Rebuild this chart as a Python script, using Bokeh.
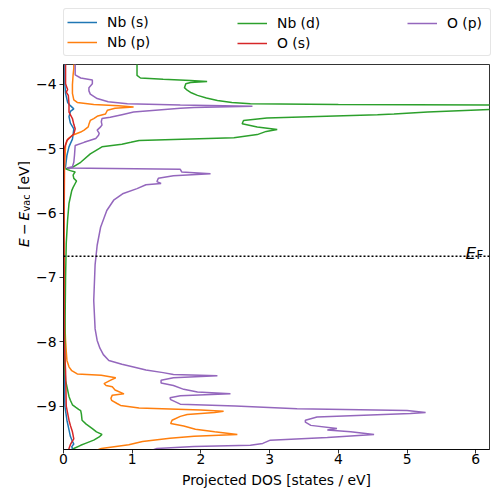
import math
from bokeh.plotting import figure
from bokeh.layouts import column, row
from bokeh.models import (Range1d, Legend, LegendItem, Label, Span, FixedTicker,
                          CustomJSTickFormatter)
from bokeh.embed import file_html
from bokeh.resources import INLINE

FONT = "DejaVu Sans"
FS = "13.9px"

# ---------------- data (energy in eV vs vacuum, PDOS in states/eV) ----------------
E_FERMI = -6.67
X_LIM = (0.0, 6.2)
Y_LIM = (-9.675, -3.69)
X_TICKS = [0, 1, 2, 3, 4, 5, 6]
Y_TICKS = [-9, -8, -7, -6, -5, -4]

nb_s_E = [-3.65, -4.00, -4.14, -4.28, -4.33, -4.38, -4.42, -4.50, -4.60, -4.69, -4.78, -4.85, -4.92, -4.97,
          -5.10, -5.28, -5.31, -6.00, -8.50, -9.00, -9.22, -9.37, -9.47, -9.55, -9.59, -9.63, -9.66, -9.72]
nb_s_dos = [0.02, 0.02, 0.03, 0.06, 0.10, 0.15, 0.10, 0.08, 0.10, 0.15, 0.14, 0.13, 0.10, 0.08,
            0.05, 0.03, 0.01, 0.005, 0.01, 0.02, 0.05, 0.08, 0.10, 0.13, 0.15, 0.12, 0.13, 0.10]

nb_p_E = [-3.65, -3.75, -3.85, -4.00, -4.14, -4.24, -4.28, -4.31, -4.33, -4.35, -4.37, -4.40, -4.44, -4.46,
          -4.49, -4.53, -4.56, -4.62, -4.66, -4.71, -4.74, -4.79, -4.84, -4.88, -4.95, -5.30, -6.00, -7.00,
          -7.60, -7.98, -8.15, -8.29, -8.39, -8.45, -8.50, -8.52, -8.56, -8.60, -8.65, -8.68, -8.70, -8.75,
          -8.81, -8.83, -8.88, -8.91, -8.96, -8.99, -9.03, -9.06, -9.08, -9.10, -9.13, -9.16, -9.22, -9.27,
          -9.31, -9.36, -9.40, -9.44, -9.47, -9.50, -9.55, -9.60, -9.66, -9.72]
nb_p_dos = [0.15, 0.15, 0.14, 0.13, 0.13, 0.15, 0.20, 0.44, 0.80, 1.02, 0.75, 0.64, 0.62, 0.61,
            0.50, 0.44, 0.39, 0.37, 0.36, 0.30, 0.25, 0.13, 0.07, 0.05, 0.03, 0.015, 0.01, 0.01,
            0.015, 0.03, 0.04, 0.05, 0.08, 0.12, 0.20, 0.55, 0.76, 0.68, 0.59, 0.62, 0.71, 0.75,
            0.88, 0.71, 0.69, 0.70, 0.78, 0.83, 1.10, 2.00, 2.33, 2.20, 1.80, 1.70, 1.58, 1.56,
            1.75, 1.92, 2.20, 2.53, 1.90, 1.55, 1.15, 0.95, 0.55, 0.40]

nb_d_E = [-3.65, -3.86, -3.90, -3.92, -3.94, -3.955, -3.97, -3.99, -4.05, -4.09, -4.13, -4.17, -4.21, -4.25,
          -4.28, -4.30, -4.31, -4.325, -4.36, -4.39, -4.43, -4.46, -4.47, -4.52, -4.56, -4.61, -4.66, -4.70,
          -4.73, -4.78, -4.83, -4.87, -4.90, -4.93, -4.97, -5.08, -5.21, -5.29, -5.31, -5.34, -5.36, -5.39,
          -5.41, -5.46, -5.50, -5.54, -5.60, -5.65, -5.75, -5.85, -6.10, -6.47, -7.00, -8.00, -8.40, -8.60,
          -8.75, -8.85, -8.91, -8.98, -9.02, -9.05, -9.07, -9.12, -9.22, -9.28, -9.35, -9.40, -9.44, -9.48,
          -9.53, -9.58, -9.61, -9.66, -9.72]
nb_d_dos = [1.07, 1.07, 1.12, 1.45, 1.85, 2.09, 1.85, 1.78, 1.76, 1.80, 1.86, 1.95, 2.08, 2.24,
            2.45, 2.72, 4.00, 7.50, 8.50, 6.20, 5.30, 4.81, 4.57, 2.96, 2.62, 2.60, 2.82, 3.11,
            2.95, 2.82, 2.48, 1.10, 0.98, 0.85, 0.56, 0.39, 0.25, 0.13, 0.03, 0.10, 0.17, 0.15,
            0.14, 0.15, 0.19, 0.17, 0.14, 0.12, 0.10, 0.08, 0.06, 0.04, 0.03, 0.02, 0.02, 0.03,
            0.06, 0.08, 0.10, 0.13, 0.18, 0.22, 0.25, 0.26, 0.27, 0.33, 0.42, 0.48, 0.56, 0.52,
            0.44, 0.32, 0.25, 0.15, 0.10]

o_s_E = [-3.65, -3.99, -4.05, -4.08, -4.12, -4.17, -4.30, -4.43, -4.53, -4.62, -4.69, -4.77, -4.82, -4.87,
         -5.00, -5.30, -8.00, -8.45, -9.00, -9.22, -9.30, -9.40, -9.51, -9.56, -9.60, -9.66, -9.72]
o_s_dos = [0.03, 0.03, 0.05, 0.06, 0.04, 0.07, 0.08, 0.08, 0.13, 0.15, 0.17, 0.15, 0.10, 0.05,
           0.01, 0.005, 0.01, 0.03, 0.04, 0.08, 0.10, 0.13, 0.15, 0.12, 0.10, 0.08, 0.07]

o_p_E = [-3.65, -3.85, -3.90, -3.93, -3.99, -4.05, -4.10, -4.15, -4.22, -4.27, -4.30, -4.32, -4.34, -4.36,
         -4.37, -4.43, -4.47, -4.51, -4.53, -4.58, -4.63, -4.66, -4.71, -4.76, -4.79, -4.84, -4.90, -4.95,
         -5.10, -5.21, -5.28, -5.30, -5.32, -5.36, -5.39, -5.42, -5.46, -5.51, -5.54, -5.56, -5.62, -5.70,
         -5.80, -5.96, -6.22, -6.50, -6.80, -7.36, -7.80, -7.98, -8.10, -8.20, -8.29, -8.35, -8.40, -8.44,
         -8.48, -8.51, -8.53, -8.56, -8.60, -8.64, -8.68, -8.74, -8.78, -8.81, -8.84, -8.87, -8.90, -8.97,
         -9.00, -9.04, -9.07, -9.10, -9.115, -9.17, -9.22, -9.25, -9.30, -9.35, -9.37, -9.40, -9.44, -9.49,
         -9.53, -9.58, -9.61, -9.63, -9.66, -9.72]
o_p_dos = [0.17, 0.17, 0.25, 0.42, 0.42, 0.37, 0.37, 0.39, 0.49, 0.65, 0.93, 1.70, 2.75, 1.90,
           1.70, 1.02, 0.85, 0.68, 0.56, 0.55, 0.56, 0.54, 0.49, 0.52, 0.51, 0.47, 0.30, 0.17,
           0.16, 0.15, 0.13, 0.05, 1.70, 1.72, 2.14, 1.60, 1.38, 1.36, 1.42, 1.20, 1.07, 0.86,
           0.73, 0.63, 0.54, 0.49, 0.46, 0.44, 0.46, 0.49, 0.53, 0.58, 0.66, 0.85, 1.05, 1.20,
           1.45, 1.60, 2.24, 1.60, 1.42, 1.42, 1.60, 1.75, 1.95, 2.43, 1.70, 1.55, 1.56, 1.70,
           2.50, 3.40, 5.00, 5.27, 5.05, 3.69, 3.52, 3.52, 3.60, 3.98, 3.84, 4.18, 4.52, 3.84,
           3.01, 2.90, 2.72, 1.90, 1.36, 1.20]

series = [
    ("Nb (s)", nb_s_E, nb_s_dos, "#1f77b4"),
    ("Nb (p)", nb_p_E, nb_p_dos, "#ff7f0e"),
    ("Nb (d)", nb_d_E, nb_d_dos, "#2ca02c"),
    ("O (s)", o_s_E, o_s_dos, "#d62728"),
    ("O (p)", o_p_E, o_p_dos, "#9467bd"),
]


def blank_fig(w, h):
    f = figure(width=w, height=h, x_range=Range1d(0, 1), y_range=Range1d(0, 1),
               x_axis_location=None, y_axis_location=None, output_backend="svg",
               toolbar_location=None, min_border=0, outline_line_color=None,
               background_fill_color="white", border_fill_color="white")
    f.grid.visible = False
    return f


def add_text(fig, text, x, y, size=FS, style="normal", angle=0.0, units="screen", yo=0):
    fig.add_layout(Label(x=x, y=y, x_units=units, y_units=units, text=text,
                         text_font=FONT, text_font_size=size, text_font_style=style,
                         text_color="black", angle=angle, text_align="left",
                         text_baseline="alphabetic", y_offset=yo))


# ---------------- main axes ----------------
p = figure(frame_width=426, frame_height=385,
           x_range=Range1d(*X_LIM), y_range=Range1d(*Y_LIM),
           output_backend="svg", toolbar_location=None,
           min_border_left=33, min_border_right=9, min_border_top=4, min_border_bottom=53,
           background_fill_color="white", border_fill_color="white")
p.grid.visible = False
p.outline_line_color = "black"
p.outline_line_width = 0.8

for name, E, dos, col in series:
    p.line(dos, E, line_color=col, line_width=1.5)

p.add_layout(Span(location=E_FERMI, dimension="width", line_color="black",
                  line_width=1.5, line_dash="2 2"))

fmt = CustomJSTickFormatter(code="return (tick < 0 ? '\\u2212' : '') + Math.abs(tick);")
for ax, ticks in ((p.xaxis[0], X_TICKS), (p.yaxis[0], Y_TICKS)):
    ax.ticker = FixedTicker(ticks=ticks)
    ax.formatter = fmt
    ax.minor_tick_line_color = None
    ax.major_tick_in = 0
    ax.major_tick_out = 4
    ax.major_tick_line_width = 0.8
    ax.major_tick_line_color = "black"
    ax.axis_line_color = "black"
    ax.axis_line_width = 0.8
    ax.major_label_text_font = FONT
    ax.major_label_text_font_size = FS
    ax.major_label_text_color = "black"
    ax.axis_label_text_font = FONT
    ax.axis_label_text_font_size = FS
    ax.axis_label_text_font_style = "normal"
    ax.axis_label_text_color = "black"
p.xaxis[0].major_label_standoff = 0
p.yaxis[0].major_label_standoff = 3
p.xaxis[0].axis_label = "Projected DOS [states / eV]"
p.xaxis[0].axis_label_standoff = 5

# E_F label above the dotted line
add_text(p, "E", 5.851, E_FERMI, size="16.7px", style="italic", units="data", yo=3.5)
add_text(p, "F", 6.011, E_FERMI, size="11.7px", units="data", yo=1.0)

# ---------------- y-axis label strip: E - E_vac [eV] ----------------
ylab = blank_fig(30, 442)
rot = math.pi / 2
y0 = 202.5
bx = 23
add_text(ylab, "E", bx, y0, style="italic", angle=rot)
add_text(ylab, "\u2212", bx, y0 + 11.9, angle=rot)
add_text(ylab, "E", bx, y0 + 26.6, style="italic", angle=rot)
add_text(ylab, "vac", bx + 2.5, y0 + 35.6, size="9.7px", angle=rot)
add_text(ylab, "[eV]", bx, y0 + 57.1, angle=rot)

# ---------------- legend strip (3 columns) ----------------
# proxies: same series, drawn in a strip whose ranges keep them out of view
top = blank_fig(498, 60)
proxy = {name: top.line(dos, E, line_color=col, line_width=1.5) for name, E, dos, col in series}
common = dict(orientation="vertical", glyph_width=30, glyph_height=20, label_height=20,
              label_standoff=10, padding=3, spacing=0, margin=0,
              label_text_font=FONT, label_text_font_size=FS, label_text_color="black")
leg1 = Legend(items=[LegendItem(label="Nb (s)", renderers=[proxy["Nb (s)"]]),
                     LegendItem(label="Nb (p)", renderers=[proxy["Nb (p)"]])],
              location=(63, 4), label_width=380,
              border_line_color="#cccccc", border_line_width=1,
              background_fill_color="white", background_fill_alpha=0.8, **common)
if "border_radius" in Legend.properties():
    leg1.border_radius = 3
leg2 = Legend(items=[LegendItem(label="Nb (d)", renderers=[proxy["Nb (d)"]]),
                     LegendItem(label="O (s)", renderers=[proxy["O (s)"]])],
              location=(234, 4), border_line_alpha=0, background_fill_alpha=0, **common)
leg3 = Legend(items=[LegendItem(label="O (p)", renderers=[proxy["O (p)"]])],
              location=(404, 24), border_line_alpha=0, background_fill_alpha=0, **common)
for lg in (leg1, leg2, leg3):
    top.add_layout(lg)

layout = column(top, row(ylab, p, spacing=0), spacing=0)
open("out.html", "w").write(file_html(layout, INLINE))
